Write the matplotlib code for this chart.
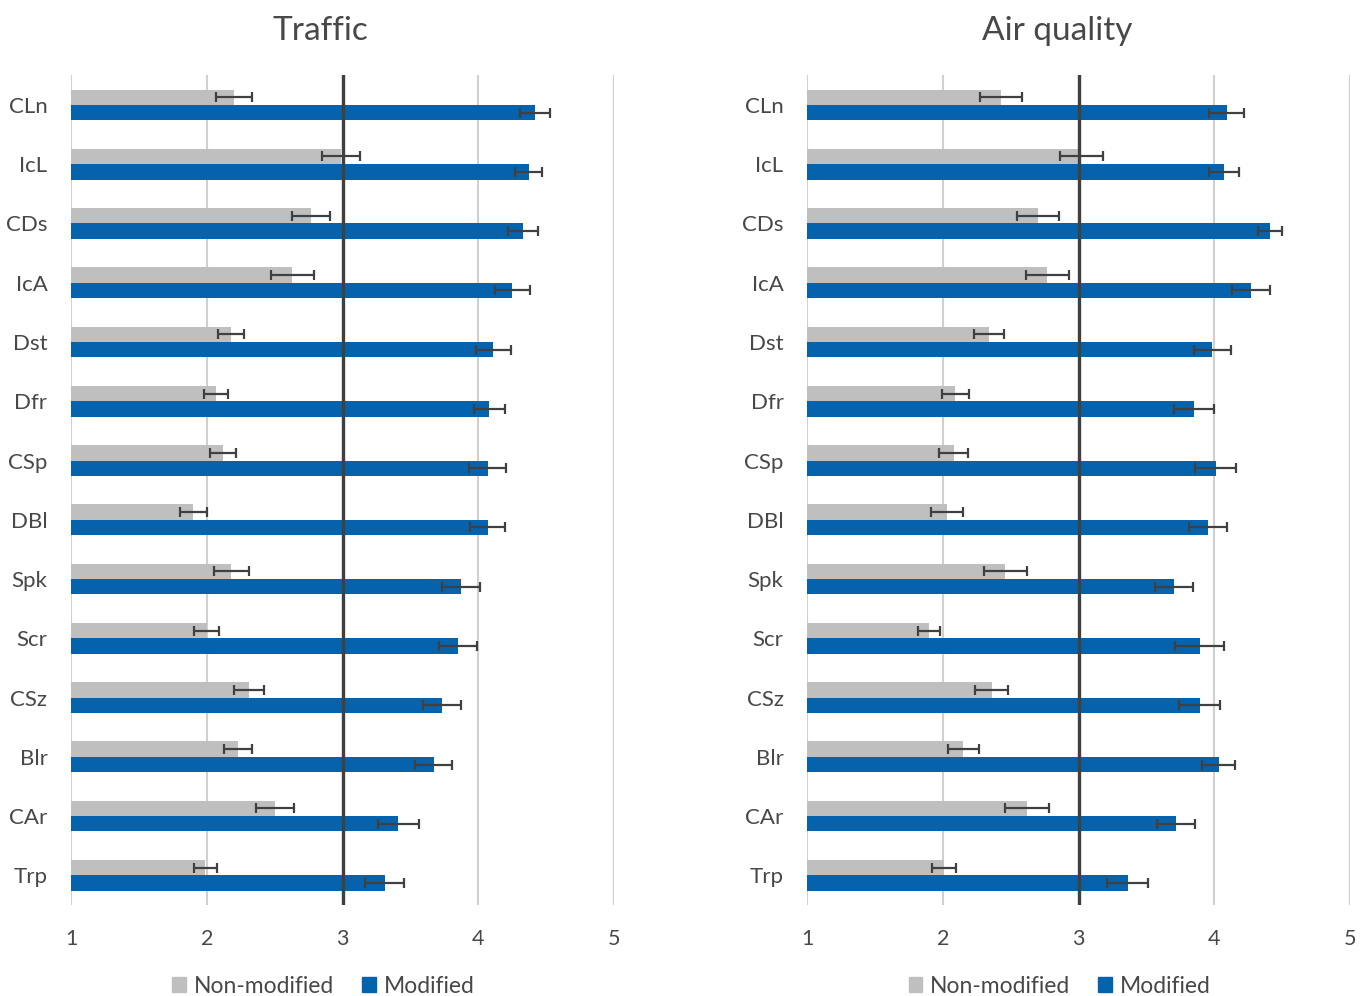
import matplotlib

matplotlib.use("Agg")
import matplotlib.pyplot as plt
import numpy as np
from matplotlib.patches import Patch

categories = ["CLn", "IcL", "CDs", "IcA", "Dst", "Dfr", "CSp",
              "DBl", "Spk", "Scr", "CSz", "Blr", "CAr", "Trp"]

# Traffic scores (mean, error) per category
traffic_non = [2.20, 2.99, 2.77, 2.63, 2.18, 2.07, 2.12,
               1.90, 2.18, 2.00, 2.31, 2.23, 2.50, 1.99]
traffic_non_err = [0.13, 0.14, 0.14, 0.16, 0.095, 0.09, 0.095,
                   0.10, 0.13, 0.093, 0.11, 0.10, 0.14, 0.087]
traffic_mod = [4.42, 4.37, 4.33, 4.25, 4.11, 4.08, 4.07,
               4.07, 3.87, 3.85, 3.73, 3.67, 3.41, 3.31]
traffic_mod_err = [0.11, 0.10, 0.11, 0.13, 0.13, 0.115, 0.135,
                   0.13, 0.14, 0.14, 0.14, 0.135, 0.15, 0.145]

# Air quality scores (mean, error) per category
air_non = [2.43, 3.02, 2.70, 2.77, 2.34, 2.09, 2.08,
           2.03, 2.46, 1.90, 2.36, 2.15, 2.62, 2.01]
air_non_err = [0.155, 0.16, 0.155, 0.16, 0.11, 0.10, 0.105,
               0.12, 0.16, 0.08, 0.12, 0.115, 0.16, 0.09]
air_mod = [4.09, 4.07, 4.41, 4.27, 3.985, 3.85, 4.01,
           3.95, 3.70, 3.89, 3.89, 4.03, 3.72, 3.36]
air_mod_err = [0.13, 0.11, 0.09, 0.14, 0.135, 0.15, 0.15,
               0.14, 0.14, 0.18, 0.15, 0.125, 0.14, 0.15]

GREY = "#BFBFBF"
BLUE = "#0563AE"
TEXT = "#484848"
ERR = "#404040"

plt.rcParams["font.family"] = ["Lato", "DejaVu Sans"]


def draw_panel(fig, rect, title, non, non_err, mod, mod_err):
    ax = fig.add_axes(rect)
    y = np.arange(len(categories))
    h = 0.26
    ax.barh(y - h / 2, np.array(non) - 1, h, left=1, color=GREY, zorder=2)
    ax.barh(y + h / 2, np.array(mod) - 1, h, left=1, color=BLUE, zorder=2)
    ax.errorbar(non, y - h / 2, xerr=non_err, fmt="none", ecolor=ERR,
                elinewidth=1.6, capsize=3.3, capthick=1.6, zorder=4)
    ax.errorbar(mod, y + h / 2, xerr=mod_err, fmt="none", ecolor=ERR,
                elinewidth=1.6, capsize=3.3, capthick=1.6, zorder=4)
    ax.axvline(3, color=ERR, linewidth=2.4, zorder=3)

    ax.set_xlim(1, 5)
    ax.set_ylim(len(categories) - 0.5, -0.5)
    ax.set_xticks([1, 2, 3, 4, 5])
    ax.set_yticks(y)
    ax.set_yticklabels(categories)
    ax.grid(axis="x", color="#D0D0D0", linewidth=1.5, zorder=0)
    ax.set_axisbelow(True)
    for s in ax.spines.values():
        s.set_visible(False)
    ax.tick_params(axis="x", length=0, pad=17, labelsize=15.5, labelcolor=TEXT)
    ax.tick_params(axis="y", length=0, pad=17, labelsize=16, labelcolor=TEXT)

    cx = rect[0] + rect[2] * 0.46
    fig.text(cx, 0.969, title, ha="center", va="center", fontsize=24, color=TEXT)

    handles = [Patch(color=GREY, label="Non-modified"),
               Patch(color=BLUE, label="Modified")]
    ax.legend(handles=handles, loc="center", bbox_to_anchor=(0.465, -0.098),
              ncol=2, frameon=False, fontsize=16.5, labelcolor=TEXT,
              handlelength=0.6, handleheight=0.6, handletextpad=0.35,
              columnspacing=1.2)
    return ax


fig = plt.figure(figsize=(13.68, 9.96), dpi=100)
draw_panel(fig, [0.0519, 0.0914, 0.397, 0.833], "Traffic",
           traffic_non, traffic_non_err, traffic_mod, traffic_mod_err)
draw_panel(fig, [0.590, 0.0914, 0.397, 0.833], "Air quality",
           air_non, air_non_err, air_mod, air_mod_err)
fig.savefig("out.png", dpi=100)
